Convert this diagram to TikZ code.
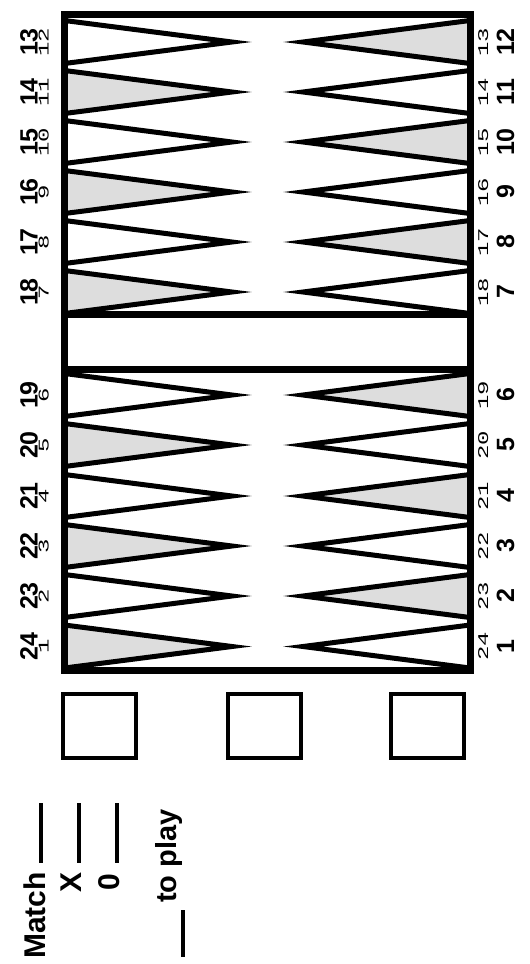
\documentclass[tikz,border=0pt]{standalone}
\usepackage{fontspec}
\setmainfont{Liberation Sans}
\setmonofont{Liberation Mono}
\usepackage{tikz}
\definecolor{pointgray}{RGB}{221,221,221}

\begin{document}
\begin{tikzpicture}[x=1pt, y=-1pt,
		point_style/.style={draw=black,line width=5pt,line join=miter,fill=white},
		point_style1/.style={draw=black,line width=5pt,line join=miter,fill=pointgray},
		frame_style/.style={draw=black,line width=7pt},
		num_style/.style={rotate=90,anchor=base,inner sep=0pt,font=\bfseries\fontsize{25}{25}\selectfont},
		num_style1/.style={rotate=90,yscale=0.62,anchor=base,inner sep=0pt,font=\ttfamily\fontsize{24}{24}\selectfont},
		box_style/.style={draw=black,line width=4pt,minimum width=73pt,minimum height=64pt,inner sep=0pt},
		text_style/.style={rotate=90,anchor=base west,inner sep=0pt,font=\bfseries\fontsize{30}{30}\selectfont},
		blank_style/.style={draw=black,line width=4pt}]

	\useasboundingbox[fill=white] (0,0) rectangle (530,964);

	% upper left points
	\filldraw[point_style]  (64.5,20.5)  -- (232,42)  -- (64.5,63.5);
	\filldraw[point_style1] (64.5,70.5)  -- (232,92)  -- (64.5,113.5);
	\filldraw[point_style]  (64.5,120.5) -- (232,142) -- (64.5,163.5);
	\filldraw[point_style1] (64.5,170.5) -- (232,192) -- (64.5,213.5);
	\filldraw[point_style]  (64.5,220.5) -- (232,242) -- (64.5,263.5);
	\filldraw[point_style1] (64.5,270.5) -- (232,292) -- (64.5,313.5);
	% upper right points
	\filldraw[point_style1] (470,20.5)  -- (303,42)  -- (470,63.5);
	\filldraw[point_style]  (470,70.5)  -- (303,92)  -- (470,113.5);
	\filldraw[point_style1] (470,120.5) -- (303,142) -- (470,163.5);
	\filldraw[point_style]  (470,170.5) -- (303,192) -- (470,213.5);
	\filldraw[point_style1] (470,220.5) -- (303,242) -- (470,263.5);
	\filldraw[point_style]  (470,270.5) -- (303,292) -- (470,313.5);
	% lower left points
	\filldraw[point_style]  (64.5,373.5) -- (232,395)   -- (64.5,416.5);
	\filldraw[point_style1] (64.5,423.5) -- (232,445)   -- (64.5,466.5);
	\filldraw[point_style]  (64.5,474.5) -- (232,496)   -- (64.5,517.5);
	\filldraw[point_style1] (64.5,524.5) -- (232,546)   -- (64.5,567.5);
	\filldraw[point_style]  (64.5,574.5) -- (232,596)   -- (64.5,617.5);
	\filldraw[point_style1] (64.5,625)   -- (232,646.5) -- (64.5,668);
	% lower right points
	\filldraw[point_style1] (470,373.5) -- (303,395)   -- (470,416.5);
	\filldraw[point_style]  (470,423.5) -- (303,445)   -- (470,466.5);
	\filldraw[point_style1] (470,474.5) -- (303,496)   -- (470,517.5);
	\filldraw[point_style]  (470,524.5) -- (303,546)   -- (470,567.5);
	\filldraw[point_style1] (470,574.5) -- (303,596)   -- (470,617.5);
	\filldraw[point_style]  (470,625)   -- (303,646.5) -- (470,668);

	% frame and bar
	\draw[frame_style] (64.5,14.5) rectangle (470,670);
	\draw[frame_style] (64.5,314.5) -- (470,314.5);
	\draw[frame_style] (64.5,369) -- (470,369);

	% point numbers
	\node[num_style]  (lb13) at (37.5,42)    {13};
	\node[num_style1] (ls12) at (48.5,42)    {12};
	\node[num_style1] (rs13) at (488,42)     {13};
	\node[num_style]  (rb12) at (514,42)     {12};
	\node[num_style]  (lb14) at (37.5,92)    {14};
	\node[num_style1] (ls11) at (48.5,92)    {11};
	\node[num_style1] (rs14) at (488,92)     {14};
	\node[num_style]  (rb11) at (514,92)     {11};
	\node[num_style]  (lb15) at (37.5,142)   {15};
	\node[num_style1] (ls10) at (48.5,142)   {10};
	\node[num_style1] (rs15) at (488,142)    {15};
	\node[num_style]  (rb10) at (514,142)    {10};
	\node[num_style]  (lb16) at (37.5,192)   {16};
	\node[num_style1] (ls9)  at (48.5,192)   {9};
	\node[num_style1] (rs16) at (488,192)    {16};
	\node[num_style]  (rb9)  at (514,192)    {9};
	\node[num_style]  (lb17) at (37.5,242)   {17};
	\node[num_style1] (ls8)  at (48.5,242)   {8};
	\node[num_style1] (rs17) at (488,242)    {17};
	\node[num_style]  (rb8)  at (514,242)    {8};
	\node[num_style]  (lb18) at (37.5,292)   {18};
	\node[num_style1] (ls7)  at (48.5,292)   {7};
	\node[num_style1] (rs18) at (488,292)    {18};
	\node[num_style]  (rb7)  at (514,292)    {7};
	\node[num_style]  (lb19) at (37.5,395)   {19};
	\node[num_style1] (ls6)  at (48.5,395)   {6};
	\node[num_style1] (rs19) at (488,395)    {19};
	\node[num_style]  (rb6)  at (514,395)    {6};
	\node[num_style]  (lb20) at (37.5,445)   {20};
	\node[num_style1] (ls5)  at (48.5,445)   {5};
	\node[num_style1] (rs20) at (488,445)    {20};
	\node[num_style]  (rb5)  at (514,445)    {5};
	\node[num_style]  (lb21) at (37.5,496)   {21};
	\node[num_style1] (ls4)  at (48.5,496)   {4};
	\node[num_style1] (rs21) at (488,496)    {21};
	\node[num_style]  (rb4)  at (514,496)    {4};
	\node[num_style]  (lb22) at (37.5,546)   {22};
	\node[num_style1] (ls3)  at (48.5,546)   {3};
	\node[num_style1] (rs22) at (488,546)    {22};
	\node[num_style]  (rb3)  at (514,546)    {3};
	\node[num_style]  (lb23) at (37.5,596)   {23};
	\node[num_style1] (ls2)  at (48.5,596)   {2};
	\node[num_style1] (rs23) at (488,596)    {23};
	\node[num_style]  (rb2)  at (514,596)    {2};
	\node[num_style]  (lb24) at (37.5,646.5) {24};
	\node[num_style1] (ls1)  at (48.5,646.5) {1};
	\node[num_style1] (rs24) at (488,646.5)  {24};
	\node[num_style]  (rb1)  at (514,646.5)  {1};

	% boxes below the board
	\node[box_style] (box1) at (99.5,726) {};
	\node[box_style] (box2) at (264,726)  {};
	\node[box_style] (box3) at (427,726)  {};

	% score lines
	\node[text_style] (match) at (45,959)   {Match};
	\node[text_style] (xmark) at (81,893)   {X};
	\node[text_style] (omark) at (119.5,891) {0};
	\node[text_style,font=\bfseries\fontsize{29}{29}\selectfont] (toplay) at (176,903) {to play};
	\draw[blank_style] (41,803) -- (41,863);
	\draw[blank_style] (79,803) -- (79,863);
	\draw[blank_style] (117,803) -- (117,863);
	\draw[blank_style] (183,910) -- (183,957);
\end{tikzpicture}
\end{document}
